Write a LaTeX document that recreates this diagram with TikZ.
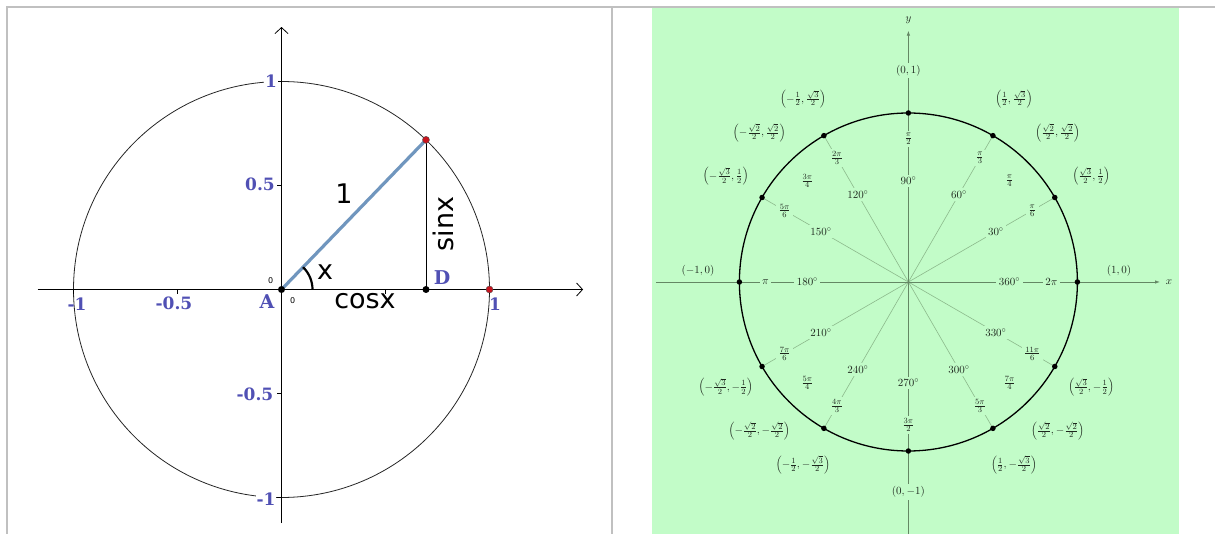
\documentclass[tikz,border=0pt]{standalone}
\usepackage{fontspec}
\usetikzlibrary{arrows.meta}
\newfontfamily\dvsans{DejaVu Sans}
\newfontfamily\dvserif{DejaVu Serif}
\definecolor{framegray}{RGB}{192,192,192}
\definecolor{tickblue}{RGB}{80,80,180}
\definecolor{segblue}{RGB}{112,150,190}
\definecolor{dotred}{RGB}{200,20,30}
\definecolor{bggreen}{RGB}{194,252,200}
\definecolor{rayg}{RGB}{140,185,140}
\definecolor{axisg}{RGB}{100,135,100}
\definecolor{rtext}{RGB}{30,40,30}
\tikzset{
  frameline/.style={draw=framegray, line width=2pt},
  unitcircle/.style={draw=black!85, line width=0.8pt},
  axisline/.style={draw=black, line width=0.8pt},
  barb/.style={-{Straight Barb[length=6pt,width=13pt]}},
  segment/.style={draw=segblue, line width=3.2pt},
  bluelab/.style={text=tickblue, font=\dvserif\bfseries\fontsize{17}{19}\selectfont, inner sep=1pt},
  bigsans/.style={font=\dvsans\fontsize{27}{30}\selectfont, inner sep=0pt},
  tinysans/.style={font=\dvsans\fontsize{8}{9}\selectfont, inner sep=0pt},
  blackdot/.style={fill=black, circle, inner sep=0pt, minimum size=7pt},
  reddot/.style={fill=dotred, draw=black!70, line width=0.4pt, circle, inner sep=0pt, minimum size=7pt},
  ray/.style={draw=rayg, line width=0.6pt},
  gaxis/.style={draw=axisg, line width=0.8pt},
  gaxarrow/.style={-{Latex[length=5pt,width=3.5pt]}},
  rlab/.style={text=rtext, fill=bggreen, inner sep=2.5pt, font=\fontsize{11}{13}\selectfont},
  clab/.style={text=rtext, fill=bggreen, inner sep=0.5pt, font=\fontsize{11}{13}\selectfont},
  gdot/.style={fill=black, circle, inner sep=0pt, minimum size=5.5pt},
  ucirc/.style={draw=black, line width=1.3pt}
}
\begin{document}
\begin{tikzpicture}[x=1pt,y=-1pt]
\useasboundingbox (0,0) rectangle (1215,534);
\fill[white] (0,0) rectangle (1215,534);
\fill[bggreen] (652,8.5) rectangle (1179,534);
\draw[frameline] (6,7.5) -- (1215,7.5);
\draw[frameline] (7,7.5) -- (7,534);
\draw[frameline] (612,7.5) -- (612,534);

% ---------- left panel ----------
\begin{scope}[shift={(281.5,289.5)}, x=208pt, y=208pt]
  \coordinate (A) at (0,0);
  \coordinate (P) at (46:1);
  \coordinate (D) at (P |- A);
  \coordinate (U) at (1,0);
  \coordinate (XL) at (-1.173,0);
  \coordinate (XR) at (1.45,0);
  \coordinate (YB) at (0,-1.123);
  \coordinate (YT) at (0,1.262);
  \draw[unitcircle] (A) circle[radius=1];
  \draw[axisline, barb] (XL) -- (XR);
  \draw[axisline, barb] (YB) -- (YT);
  \foreach \t in {-1,-0.5,0.5,1} {
    \draw[axisline] (\t,0) -- ++(0,-5pt);
    \draw[axisline] (0,\t) -- ++(-5pt,0);
  }
  \draw[segment] (A) -- (P);
  \draw[draw=black, line width=0.8pt] (P) -- (D);
  \draw[draw=black, line width=2.2pt] (31pt,0) arc[start angle=0, end angle=46, radius=31pt];
  \node[blackdot] (Adot) at (A) {};
  \node[blackdot] (Ddot) at (D) {};
  \node[reddot] (Pdot) at (P) {};
  \node[reddot] (Udot) at (U) {};
\end{scope}
\node[bluelab, fill=white] (ly1) at (271,81.5) {1};
\node[bluelab] (ly05) at (260,184) {0.5};
\node[bluelab] (lym05) at (255,394) {-0.5};
\node[bluelab, fill=white] (lym1) at (266,499) {-1};
\node[bluelab] (lxm1) at (77,304) {-1};
\node[bluelab] (lxm05) at (174,303) {-0.5};
\node[bluelab] (lx1) at (495,304) {1};
\node[bluelab, font=\dvserif\bfseries\fontsize{19}{21}\selectfont] (lA) at (267,302) {A};
\node[bluelab, font=\dvserif\bfseries\fontsize{19}{21}\selectfont] (lD) at (442,277.5) {D};
\node[tinysans] (z1) at (270.7,280.7) {0};
\node[tinysans] (z2) at (292.7,300.7) {0};
\node[bigsans] (lx) at (325,272.5) {x};
\node[bigsans] (lcos) at (365,301) {cosx};
\node[bigsans, rotate=90] (lsin) at (443,224) {sinx};
\node[bigsans] (lone) at (344,194) {1};

% ---------- right panel ----------
\begin{scope}[shift={(908.4,282)}, x=1pt, y=1pt]
  \coordinate (O) at (0,0);
  \coordinate (GXL) at (-252.4,0);
  \coordinate (GXR) at (251.6,0);
  \coordinate (GYB) at (0,-252);
  \coordinate (GYT) at (0,251.3);
  \foreach \a in {30,60,120,150,210,240,300,330}
    \draw[ray] (O) -- (\a:169);
  \draw[gaxis, gaxarrow] (GXL) -- (GXR);
  \draw[gaxis, gaxarrow] (GYB) -- (GYT);
  \node[text=rtext, font=\fontsize{11}{13}\selectfont] (xlab) at (260.6,0) {$x$};
  \node[text=rtext, font=\fontsize{11}{13}\selectfont] (ylab) at (0,261.6) {$y$};
  % degree labels
  \foreach \a in {30,60,...,360}
    \node[rlab] (deg\a) at (\a:101) {$\a^\circ$};
  % radian labels
  \foreach \a/\t in {0/{2\pi}, 30/{\frac{\pi}{6}}, 45/{\frac{\pi}{4}}, 60/{\frac{\pi}{3}},
      90/{\frac{\pi}{2}}, 120/{\frac{2\pi}{3}}, 135/{\frac{3\pi}{4}}, 150/{\frac{5\pi}{6}},
      180/{\pi}, 210/{\frac{7\pi}{6}}, 225/{\frac{5\pi}{4}}, 240/{\frac{4\pi}{3}},
      270/{\frac{3\pi}{2}}, 300/{\frac{5\pi}{3}}, 315/{\frac{7\pi}{4}}, 330/{\frac{11\pi}{6}}}
    \node[rlab] (rad\a) at (\a:143) {$\t$};
  % coordinate labels
  \foreach \a/\t in {
      30/{\left(\frac{\sqrt{3}}{2},\frac{1}{2}\right)},
      45/{\left(\frac{\sqrt{2}}{2},\frac{\sqrt{2}}{2}\right)},
      60/{\left(\frac{1}{2},\frac{\sqrt{3}}{2}\right)},
      120/{\left(-\frac{1}{2},\frac{\sqrt{3}}{2}\right)},
      135/{\left(-\frac{\sqrt{2}}{2},\frac{\sqrt{2}}{2}\right)},
      150/{\left(-\frac{\sqrt{3}}{2},\frac{1}{2}\right)},
      210/{\left(-\frac{\sqrt{3}}{2},-\frac{1}{2}\right)},
      225/{\left(-\frac{\sqrt{2}}{2},-\frac{\sqrt{2}}{2}\right)},
      240/{\left(-\frac{1}{2},-\frac{\sqrt{3}}{2}\right)},
      300/{\left(\frac{1}{2},-\frac{\sqrt{3}}{2}\right)},
      315/{\left(\frac{\sqrt{2}}{2},-\frac{\sqrt{2}}{2}\right)},
      330/{\left(\frac{\sqrt{3}}{2},-\frac{1}{2}\right)}}
    \node[clab] (pt\a) at (\a:211) {$\t$};
  \node[clab] (pt0) at (210.6,11) {$(1,0)$};
  \node[clab] (pt180) at (-210.4,11) {$(-1,0)$};
  \node[rlab] (pt90) at (90:211.5) {$(0,1)$};
  \node[rlab] (pt270) at (270:210) {$(0,-1)$};
  \draw[ucirc] (O) circle[radius=169];
  \foreach \a in {0,30,...,330}
    \node[gdot] (d\a) at (\a:169) {};
\end{scope}
\end{tikzpicture}
\end{document}
